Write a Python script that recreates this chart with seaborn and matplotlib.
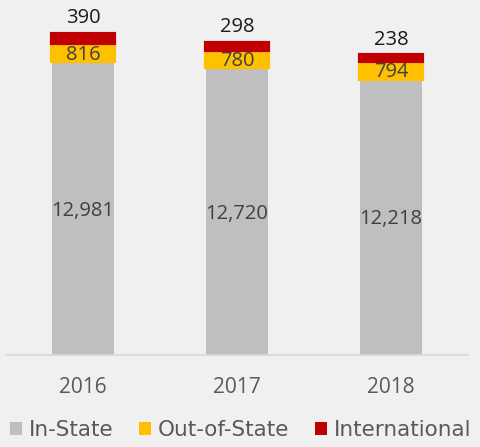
import numpy as np
import pandas as pd
import seaborn as sns
import matplotlib.pyplot as plt
from matplotlib.patches import Patch

years = ['2016', '2017', '2018']
in_state = [12981, 12720, 12218]
out_state = [816, 780, 794]
international = [390, 298, 238]

colors = {'In-State': '#BFBFBF', 'Out-of-State': '#FFC000', 'International': '#C00000'}
bg = '#F0F0F0'

sns.set_theme(style='white')
plt.rcParams['font.family'] = ['Open Sans', 'DejaVu Sans']

df = pd.DataFrame({'year': years, 'In-State': in_state,
                   'Out-of-State': out_state, 'International': international})

fig = plt.figure(figsize=(4.81, 4.47), dpi=100, facecolor=bg)
ax = fig.add_axes([6 / 481, (447 - 355) / 447, 462 / 481, 355 / 447])
ax.set_facecolor(bg)

# stacked layers, the small ones get an outline like the original
bottom = np.zeros(len(df))
for col in ['In-State', 'Out-of-State', 'International']:
    lw = 0 if col == 'In-State' else 3
    sns.barplot(data=df, x='year', y=col, color=colors[col], bottom=bottom,
                width=0.4, ax=ax, saturation=1, edgecolor=colors[col], linewidth=lw)
    bottom = bottom + df[col].values

ax.set_xlim(-0.5, 2.5)
ax.set_ylim(0, 15700)
ax.set_ylabel('')
ax.set_xlabel('')
ax.set_yticks([])
for s in ['top', 'right', 'left']:
    ax.spines[s].set_visible(False)
ax.spines['bottom'].set_color('#D9D9D9')
ax.spines['bottom'].set_linewidth(1.2)
ax.tick_params(axis='x', length=0, pad=16, labelsize=15, labelcolor='#595959')

# value labels
for i in range(len(df)):
    ax.text(i, in_state[i] / 2, f'{in_state[i]:,}', ha='center', va='center_baseline',
            fontsize=14.5, color='#404040')
    ax.text(i, in_state[i] + out_state[i] / 2, f'{out_state[i]:,}', ha='center',
            va='center_baseline', fontsize=14.5, color='#404040')
    top = in_state[i] + out_state[i] + international[i]
    ax.text(i, top + 260, f'{international[i]:,}', ha='center', va='bottom',
            fontsize=14.5, color='#1A1A1A')

handles = [Patch(facecolor=colors[k], edgecolor='none') for k in colors]
fig.legend(handles, list(colors.keys()), loc='center', ncol=3,
           bbox_to_anchor=(0.5, 17 / 447), frameon=False,
           prop={'family': 'DejaVu Sans', 'size': 15.5},
           labelcolor='#595959', handlelength=0.55, handleheight=0.55,
           handletextpad=0.32, columnspacing=1.2, borderpad=0)

fig.savefig('out.png', dpi=100, facecolor=bg)
